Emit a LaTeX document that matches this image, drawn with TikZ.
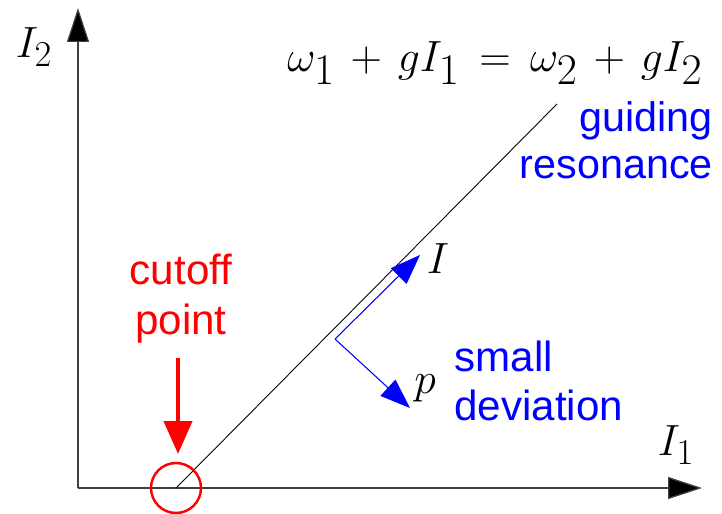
\documentclass[tikz,border=0pt]{standalone}
\usepackage{amsmath}
\usepackage{fontspec}
\newfontfamily\labelfont{Liberation Sans}
\usetikzlibrary{arrows.meta}

\begin{document}
\begin{tikzpicture}[
  x=0.02cm, y=-0.02cm,
  axis/.style={draw=black!75, line width=0.7pt, -{Triangle[length=6.8mm,width=4.4mm,fill=black]}},
  vec/.style={draw=blue, line width=0.6pt, -{Triangle[length=6mm,width=4.4mm]}},
  mathlbl/.style={inner sep=0pt, font=\fontsize{28}{30}\selectfont},
  note/.style={inner sep=0pt, font=\labelfont\fontsize{23.5}{26.5}\selectfont},
  >=Stealth
]
\useasboundingbox (0,0) rectangle (722,513);
% axes
\coordinate (O) at (78,488);
\coordinate (ytip) at (78,8);
\coordinate (xtip) at (702,488);
\draw[axis] (O) -- (ytip);
\draw[axis] (O) -- (xtip);
\node[mathlbl] (ylab) at (34,47) {$I_2$};
\node[mathlbl] (xlab) at (676,445) {$I_1$};
% guiding resonance line
\coordinate (cut) at (176,488);
\coordinate (lineend) at (557,104);
\draw[black, line width=0.5pt] (cut) -- (lineend);
\node[mathlbl, font=\fontsize{34}{36}\selectfont] (eq) at (495,63)
  {$\medmuskip=6.5mu\thickmuskip=8mu \omega_1+gI_1=\omega_2+gI_2$};
\node[note, blue, anchor=east, align=right] (guide) at (713,140) {guiding\\resonance};
% local coordinates
\coordinate (corner) at (335,339);
\coordinate (Itip) at (420,255);
\coordinate (ptip) at (410,408);
\draw[vec] (corner) -- (Itip);
\draw[vec] (corner) -- (ptip);
\node[mathlbl] (Ilab) at (438,259) {$I$};
\node[mathlbl] (plab) at (425,388) {$p$};
\node[note, blue, anchor=west, align=left, font=\labelfont\fontsize{24}{28}\selectfont] (dev) at (454,381) {small\\deviation};
% cutoff
\node[draw=red, line width=1.4pt, circle, minimum size=1cm, inner sep=0pt] (ring) at (cut) {};
\node[note, red, align=center, font=\labelfont\fontsize{24}{28.5}\selectfont] (cutlbl) at (181,299) {cutoff\\point};
\coordinate (arrtop) at (178,358);
\coordinate (arrtip) at (178,454);
\draw[red, line width=2.4pt, -{Triangle[length=6.6mm,width=5.6mm]}] (arrtop) -- (arrtip);
\end{tikzpicture}
\end{document}
